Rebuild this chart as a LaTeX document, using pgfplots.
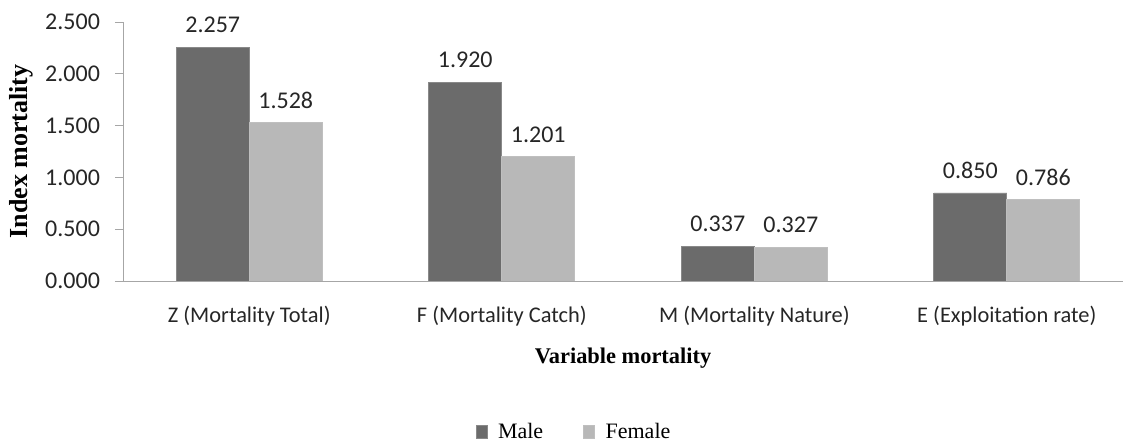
\documentclass[border=0pt]{standalone}
\usepackage{pgfplots}
\pgfplotsset{compat=1.18}
\usepackage{fontspec}
\setmainfont{Carlito}
\newfontfamily\timesfont{Liberation Serif}
\definecolor{male}{HTML}{6B6B6B}
\definecolor{female}{HTML}{B8B8B8}
\definecolor{axisgray}{HTML}{A6A6A6}
\begin{document}
\begin{tikzpicture}
\useasboundingbox (0,0) rectangle (561.5pt,221pt);
\begin{axis}[
  at={(61.5pt,80.5pt)}, anchor=south west,
  scale only axis,
  width=500pt, height=129.5pt,
  ybar=0pt, bar width=36.5pt,
  xmin=-0.5, xmax=3.46,
  ymin=0, ymax=2.5,
  ytick={0,0.5,1,1.5,2,2.5},
  xtick={0,1,2,3},
  xticklabels={Z (Mortality Total),F (Mortality Catch),M (Mortality Nature),E (Exploitation rate)},
  axis x line=bottom, axis y line=left,
  axis line style={axisgray, -},
  x axis line style={-}, y axis line style={-},
  xtick style={draw=none},
  ytick style={axisgray, thin},
  tick align=outside,
  major tick length=4pt,
  tick label style={text=black!85},
  xticklabel style={font=\fontsize{11.2}{13}\selectfont, yshift=-5pt},
  /pgf/number format/assume math mode=true,
  yticklabel style={font=\fontsize{12}{14}\selectfont, /pgf/number format/fixed, /pgf/number format/fixed zerofill, /pgf/number format/precision=3, /pgf/number format/1000 sep={}, xshift=-4pt},
  ylabel={\timesfont\bfseries Index mortality},
  ylabel style={font=\fontsize{13}{15}\selectfont, yshift=-1pt},
  xlabel={\timesfont\bfseries Variable mortality},
  xlabel style={font=\fontsize{11.2}{13}\selectfont, yshift=-4pt},
  nodes near coords,
  nodes near coords style={font=\fontsize{12}{14}\selectfont, text=black!85, anchor=south, yshift=3.5pt,
     /pgf/number format/fixed, /pgf/number format/fixed zerofill, /pgf/number format/precision=3},
  legend style={draw=none, at={(0.452,-0.583)}, anchor=center, legend columns=2,
     font=\timesfont\fontsize{11}{13}\selectfont, /tikz/every even column/.append style={column sep=18pt}},
  legend image code/.code={\fill[#1] (0pt,-3pt) rectangle (5.5pt,3.5pt); \path[draw=none,fill=none] (0pt,0pt) rectangle (9pt,0.1pt);},
]
\addplot[fill=male, draw=male!80!white] coordinates {(0,2.257) (1,1.920) (2,0.337) (3,0.850)};
\addplot[fill=female, draw=female!90!white] coordinates {(0,1.528) (1,1.201) (2,0.327) (3,0.786)};
\legend{Male, Female}
\end{axis}
\end{tikzpicture}
\end{document}
